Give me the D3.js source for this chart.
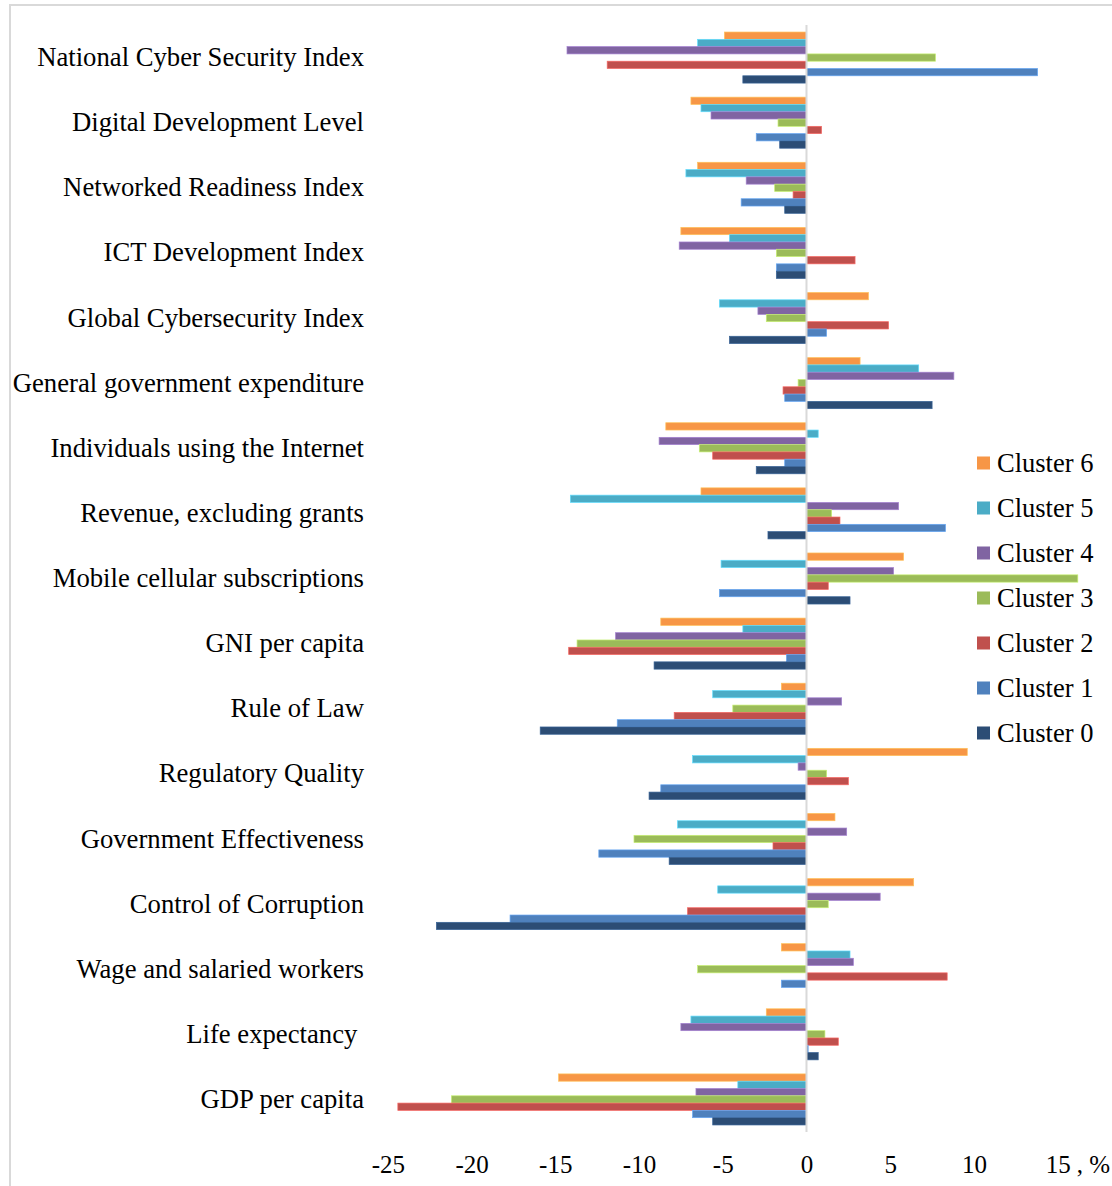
<!DOCTYPE html>
<html>
<head>
<meta charset="utf-8">
<script src="https://cdn.jsdelivr.net/npm/d3@7"></script>
<style>
  html, body { margin: 0; padding: 0; background: #ffffff; }
  svg { display: block; font-family: "Liberation Serif", "Times New Roman", serif; }
</style>
</head>
<body>
<svg id="chart" width="1112" height="1186"></svg>
<script>
// Indicator names, top to bottom
const categories = [
  "National Cyber Security Index",
  "Digital Development Level",
  "Networked Readiness Index",
  "ICT Development Index",
  "Global Cybersecurity Index",
  "General government expenditure",
  "Individuals using the Internet",
  "Revenue, excluding grants",
  "Mobile cellular subscriptions",
  "GNI per capita",
  "Rule of Law",
  "Regulatory Quality",
  "Government Effectiveness",
  "Control of Corruption",
  "Wage and salaried workers",
  "Life expectancy ",
  "GDP per capita"
];

// Deviation of each cluster, %, in category order
const cluster6 = [-4.9, -6.9, -6.5, -7.5, 3.7, 3.2, -8.4, -6.3, 5.8, -8.7, -1.5, 9.6, 1.7, 6.4, -1.5, -2.4, -14.8];
const cluster5 = [-6.5, -6.3, -7.2, -4.6, -5.2, 6.7, 0.7, -14.1, -5.1, -3.8, -5.6, -6.8, -7.7, -5.3, 2.6, -6.9, -4.1];
const cluster4 = [-14.3, -5.7, -3.6, -7.6, -2.9, 8.8, -8.8, 5.5, 5.2, -11.4, 2.1, -0.5, 2.4, 4.4, 2.8, -7.5, -6.6];
const cluster3 = [7.7, -1.7, -1.9, -1.8, -2.4, -0.5, -6.4, 1.5, 16.2, -13.7, -4.4, 1.2, -10.3, 1.3, -6.5, 1.1, -21.2];
const cluster2 = [-11.9, 0.9, -0.8, 2.9, 4.9, -1.4, -5.6, 2.0, 1.3, -14.2, -7.9, 2.5, -2.0, -7.1, 8.4, 1.9, -24.4];
const cluster1 = [13.8, -3.0, -3.9, -1.8, 1.2, -1.3, -1.3, 8.3, -5.2, -1.2, -11.3, -8.7, -12.4, -17.7, -1.5, 0.1, -6.8];
const cluster0 = [-3.8, -1.6, -1.3, -1.8, -4.6, 7.5, -3.0, -2.3, 2.6, -9.1, -15.9, -9.4, -8.2, -22.1, 0, 0.7, -5.6];

// Series names (top bar first within each group) and their colours
const seriesNames = ["Cluster 6", "Cluster 5", "Cluster 4", "Cluster 3", "Cluster 2", "Cluster 1", "Cluster 0"];
const seriesValues = [cluster6, cluster5, cluster4, cluster3, cluster2, cluster1, cluster0];
const seriesColors = ["#F79646", "#4BACC6", "#8064A2", "#9BBB59", "#C0504D", "#4F81BD", "#2C4D75"];

// Axis ticks
const tickValues = [-25, -20, -15, -10, -5, 0, 5, 10, 15];
const tickLabels = ["-25", "-20", "-15", "-10", "-5", "0", "5", "10", "15"];
const unitLabel = ", %";

const svg = d3.select("#chart");
const LABEL_FONT = 26.7;
const LEGEND_FONT = 26.5;
const TICK_FONT = 25;

// Outer frame (top and left edges visible)
svg.append("path")
  .attr("d", "M10,1186 L10,5 L1112,5")
  .attr("fill", "none")
  .attr("stroke", "#d9d9d9")
  .attr("stroke-width", 2);

const x = d3.scaleLinear().domain([-25, 15]).range([387.8, 1057.7]);

const y = d3.scaleBand()
  .domain(categories)
  .range([25, 1132])
  .paddingInner(0.216)
  .paddingOuter(0.108);

const ySub = d3.scaleBand()
  .domain(seriesNames)
  .range([0, y.bandwidth()]);

const color = d3.scaleOrdinal().domain(seriesNames).range(seriesColors);

// Flatten into bar records
const bars = [];
seriesNames.forEach((s, si) => {
  categories.forEach((c, ci) => {
    bars.push({ series: s, category: c, value: seriesValues[si][ci] });
  });
});

svg.append("g")
  .selectAll("rect")
  .data(bars)
  .join("rect")
  .attr("x", d => x(Math.min(0, d.value)))
  .attr("width", d => Math.abs(x(d.value) - x(0)))
  .attr("y", d => y(d.category) + ySub(d.series))
  .attr("height", ySub.bandwidth())
  .attr("fill", d => color(d.series))
  .attr("stroke", d => d3.color(color(d.series)).brighter(0.7))
  .attr("stroke-width", 0.7);

// Vertical zero line
svg.append("line")
  .attr("x1", x(0)).attr("x2", x(0))
  .attr("y1", y.range()[0]).attr("y2", y.range()[1])
  .attr("stroke", "#d9d9d9")
  .attr("stroke-width", 2);

// Category labels
svg.append("g")
  .selectAll("text")
  .data(categories)
  .join("text")
  .attr("x", 364)
  .attr("y", d => y(d) + y.bandwidth() / 2)
  .attr("dy", "0.32em")
  .attr("text-anchor", "end")
  .attr("font-size", LABEL_FONT)
  .style("white-space", "pre")
  .attr("fill", "#000")
  .text(d => d);

// Bottom axis labels
const xAxis = d3.axisBottom(x)
  .tickValues(tickValues)
  .tickFormat((d, i) => tickLabels[i])
  .tickSize(0)
  .tickPadding(23);

const gx = svg.append("g")
  .attr("transform", `translate(0,${y.range()[1]})`)
  .call(xAxis);
gx.select(".domain").remove();
gx.selectAll("text")
  .attr("font-size", TICK_FONT)
  .attr("font-family", "\"Liberation Serif\", \"Times New Roman\", serif")
  .attr("fill", "#000");

svg.append("text")
  .attr("x", x(15) + 19)
  .attr("y", y.range()[1] + 23)
  .attr("dy", "0.71em")
  .attr("font-size", TICK_FONT)
  .attr("fill", "#000")
  .text(unitLabel);

// Legend
const legend = svg.append("g").attr("transform", "translate(977,463)");
const item = legend.selectAll("g")
  .data(seriesNames)
  .join("g")
  .attr("transform", (d, i) => `translate(0,${i * 45})`);
item.append("rect")
  .attr("x", 0).attr("y", -6.5)
  .attr("width", 13).attr("height", 13)
  .attr("fill", d => color(d));
item.append("text")
  .attr("x", 20)
  .attr("y", 0)
  .attr("dy", "0.34em")
  .attr("font-size", LEGEND_FONT)
  .attr("fill", "#000")
  .text(d => d);
</script>
</body>
</html>
